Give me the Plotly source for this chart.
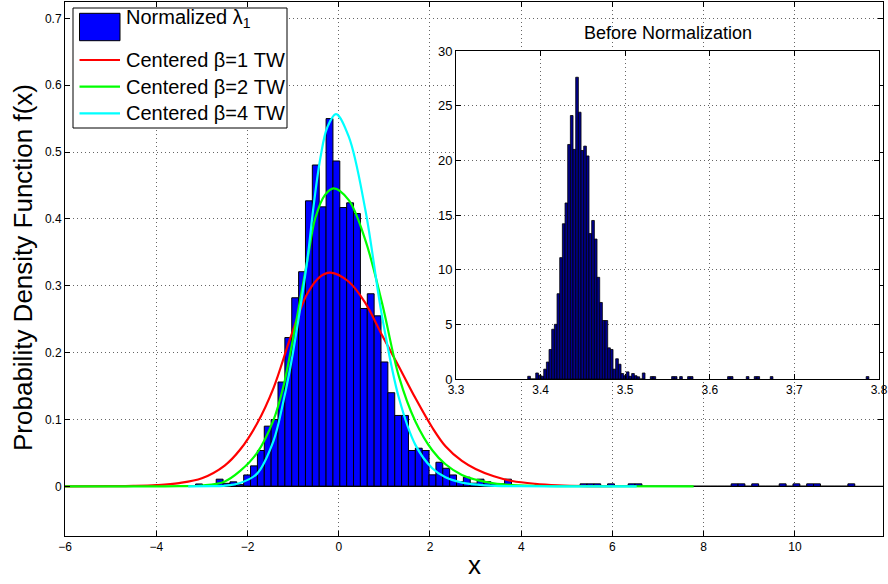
import plotly.graph_objects as go

# ---------------- data ----------------
# main histogram (normalized lambda_1), uniform bins
main_bin_start = -3.137
main_bin_width = 0.1505
main_density = [
    0.0035, 0.0, 0.0, 0.0107, 0.0045, 0.0067, 0.0025, 0.017, 0.0306, 0.0536,
    0.090, 0.0999, 0.156, 0.2225, 0.282, 0.321, 0.427, 0.4806, 0.418, 0.550,
    0.4866, 0.417, 0.424, 0.408, 0.266, 0.288, 0.255, 0.186, 0.140, 0.106,
    0.106, 0.0536, 0.057, 0.0536, 0.0172, 0.036, 0.027, 0.017, 0.007, 0.0137,
    0.0047, 0.0107, 0.007, 0.0037, 0.0037, 0.0107, 0.0, 0.0, 0.0, 0.0,
    0.0, 0.0, 0.0, 0.0, 0.0, 0.0, 0.0037, 0.0037, 0.0037, 0.0,
    0.0037, 0.0, 0.0, 0.0037, 0.0037, 0.0, 0.0, 0.0, 0.0, 0.0,
    0.0, 0.0, 0.0, 0.0, 0.0, 0.0, 0.0, 0.0, 0.0037, 0.0037,
    0.0, 0.0037, 0.0, 0.0, 0.0, 0.0037, 0.0, 0.0037, 0.0, 0.0037,
    0.0037, 0.0, 0.0, 0.0, 0.0, 0.0037,
]

# inset histogram (before normalization)
inset_bin_start = 3.3848
inset_bin_width = 0.00315
inset_bin_index = list(range(0, 44)) + [46, 47, 54, 55, 57, 60, 61, 75, 76, 82, 85, 86, 91, 127]
inset_density = [
    0.25, 0.0, 0.0, 0.55, 0.35, 0.25, 0.9, 1.55, 2.7, 4.55,
    5.0, 7.8, 11.1, 14.2, 16.1, 21.45, 24.1, 21.0, 27.6, 24.4,
    20.9, 21.3, 20.4, 13.3, 14.5, 12.8, 9.3, 7.0, 5.35, 5.35,
    2.85, 2.7, 0.9, 1.85, 1.35, 0.5, 0.3, 0.65, 0.25, 0.5,
    0.3, 0.2, 0.0, 0.55,
    0.22, 0.22, 0.22, 0.22, 0.22, 0.22, 0.22, 0.22, 0.22, 0.22, 0.22, 0.22, 0.22, 0.22,
]

# Tracy-Widom curves
red_x = [-6.0, -5.0, -4.5, -4.0, -3.5, -3.0, -2.5, -2.16, -1.79, -1.43, -1.06, -0.69, -0.40, -0.18,
         0.22, 0.585, 0.95, 1.32, 1.68, 2.05, 2.34, 2.7, 3.0, 3.4, 3.8, 4.3, 4.8, 5.5, 6.0]
red_y = [0.0, 0.0002, 0.0006, 0.0018, 0.0048, 0.012, 0.031, 0.055, 0.094, 0.147, 0.222, 0.288, 0.314, 0.3196,
         0.306, 0.274, 0.226, 0.179, 0.132, 0.088, 0.060, 0.038, 0.026, 0.015, 0.008, 0.0038, 0.0016, 0.0004, 0.0001]

green_x = [-6.0, -3.5, -3.0, -2.52, -2.16, -1.79, -1.43, -1.21, -1.06, -0.91, -0.69, -0.51, -0.30, -0.11,
           0.22, 0.585, 0.95, 1.32, 1.68, 2.05, 2.34, 2.7, 3.0, 3.4, 3.8, 4.5, 5.5, 7.78]
green_y = [0.0, 0.0002, 0.0012, 0.0065, 0.023, 0.050, 0.099, 0.150, 0.200, 0.255, 0.337, 0.402, 0.436, 0.4457,
           0.428, 0.368, 0.274, 0.164, 0.097, 0.054, 0.033, 0.017, 0.010, 0.0045, 0.002, 0.0005, 0.0001, 0.0]

cyan_x = [-3.3, -2.8, -2.52, -2.16, -1.79, -1.43, -1.21, -1.06, -0.91, -0.69, -0.55, -0.40, -0.25, -0.06,
          0.22, 0.585, 0.95, 1.32, 1.68, 2.05, 2.34, 2.7, 3.2, 4.0, 5.0, 6.53]
cyan_y = [0.0, 0.0002, 0.0008, 0.005, 0.019, 0.068, 0.128, 0.178, 0.238, 0.338, 0.420, 0.492, 0.537, 0.5568,
          0.523, 0.413, 0.254, 0.132, 0.062, 0.027, 0.0135, 0.0055, 0.0015, 0.0002, 0.0, 0.0]

x_range = [-6, 11.93]
y_range = [-0.0743, 0.7244]
x_ticks = [-6, -4, -2, 0, 2, 4, 6, 8, 10]
y_ticks = [0, 0.1, 0.2, 0.3, 0.4, 0.5, 0.6, 0.7]
y_ticklabels = ["0", "0.1", "0.2", "0.3", "0.4", "0.5", "0.6", "0.7"]
inset_x_range = [3.3, 3.8]
inset_y_range = [0, 30]
inset_x_ticks = [3.3, 3.4, 3.5, 3.6, 3.7, 3.8]
inset_x_ticklabels = ["3.3", "3.4", "3.5", "3.6", "3.7", "3.8"]
inset_y_ticks = [0, 5, 10, 15, 20, 25, 30]

legend_labels = ["Normalized λ<sub>1</sub>", "Centered β=1 TW", "Centered β=2 TW", "Centered β=4 TW"]
curve_colors = ["#ff0000", "#00ff00", "#00ffff"]

# ---------------- figure ----------------
FONT = "Liberation Sans, Arial, Helvetica, sans-serif"
W, H = 888, 584
ML, MR, MT, MB = 65, 5, 2, 48
PW, PH = W - ML - MR, H - MT - MB


def px_x(p):
    return (p - ML) / PW


def px_y(p):
    return (H - MB - p) / PH


main_centers = [main_bin_start + (i + 0.5) * main_bin_width for i in range(len(main_density))]
baseline_x = [main_bin_start, x_range[1]]
inset_centers = [inset_bin_start + (i + 0.5) * inset_bin_width for i in inset_bin_index]

fig = go.Figure()

fig.add_trace(go.Bar(
    x=main_centers, y=main_density, width=main_bin_width,
    marker=dict(color="#0000ff", line=dict(color="black", width=1)),
    xaxis="x", yaxis="y", hoverinfo="skip",
))
fig.add_trace(go.Scatter(
    x=baseline_x, y=[0, 0], mode="lines",
    line=dict(color="black", width=1.2), xaxis="x", yaxis="y", hoverinfo="skip",
))
for xs, ys, col in [(red_x, red_y, curve_colors[0]), (green_x, green_y, curve_colors[1]),
                    (cyan_x, cyan_y, curve_colors[2])]:
    fig.add_trace(go.Scatter(
        x=xs, y=ys, mode="lines",
        line=dict(color=col, width=2.2, shape="spline", smoothing=1.0),
        xaxis="x", yaxis="y", hoverinfo="skip",
    ))

fig.add_trace(go.Bar(
    x=inset_centers, y=inset_density, width=inset_bin_width,
    marker=dict(color="rgb(0,0,143)", line=dict(color="black", width=0.8)),
    xaxis="x2", yaxis="y2", hoverinfo="skip",
))

axis_common = dict(
    showline=True, linecolor="black", linewidth=1, mirror="ticks",
    ticks="inside", ticklen=5, tickcolor="black", tickwidth=1,
    showgrid=True, gridcolor="#666666", griddash="1px,3px", gridwidth=1,
    zeroline=False, automargin=False, tickfont=dict(family=FONT, size=12, color="black"),
)

fig.update_layout(
    width=W, height=H,
    margin=dict(l=ML, r=MR, t=MT, b=MB, autoexpand=False),
    paper_bgcolor="white", plot_bgcolor="white",
    showlegend=False, bargap=0, barmode="overlay",
    font=dict(family=FONT, color="black"),
    xaxis=dict(domain=[0, 1], range=x_range, tickvals=x_ticks, anchor="y", **axis_common),
    yaxis=dict(domain=[0, 1], range=y_range, tickvals=y_ticks, ticktext=y_ticklabels,
               anchor="x", **axis_common),
    xaxis2=dict(domain=[px_x(456), px_x(879)], range=inset_x_range, tickvals=inset_x_ticks,
                ticktext=inset_x_ticklabels, anchor="y2", **axis_common),
    yaxis2=dict(domain=[px_y(379), px_y(51)], range=inset_y_range, tickvals=inset_y_ticks,
                anchor="x2", **axis_common),
)
fig.update_yaxes(tickfont=dict(family=FONT, size=13, color="black"), selector=dict(anchor="x2"))

# manual legend
shapes = [
    dict(type="rect", xref="paper", yref="paper", x0=px_x(73), x1=px_x(287), y0=px_y(128), y1=px_y(8),
         fillcolor="white", line=dict(color="black", width=1), layer="above"),
    dict(type="rect", xref="paper", yref="paper", x0=px_x(79.5), x1=px_x(120), y0=px_y(40.7), y1=px_y(13.3),
         fillcolor="#0000ff", line=dict(color="black", width=1), layer="above"),
]
line_rows = [60, 86.7, 113.3]
for row, col in zip(line_rows, curve_colors):
    shapes.append(dict(type="line", xref="paper", yref="paper", x0=px_x(79.5), x1=px_x(120),
                       y0=px_y(row), y1=px_y(row), line=dict(color=col, width=2.2), layer="above"))

annotations = [
    dict(text=legend_labels[0], xref="paper", yref="paper", x=px_x(124), y=px_y(19),
         xanchor="left", yanchor="middle", showarrow=False, font=dict(family=FONT, size=20)),
]
for row, lab in zip(line_rows, legend_labels[1:]):
    annotations.append(dict(text=lab, xref="paper", yref="paper", x=px_x(124), y=px_y(row),
                            xanchor="left", yanchor="middle", showarrow=False,
                            font=dict(family=FONT, size=20)))

annotations += [
    dict(text="Before Normalization", xref="paper", yref="paper", x=px_x(667.5), y=px_y(33),
         xanchor="center", yanchor="middle", showarrow=False, font=dict(family=FONT, size=18)),
    dict(text="Probability Density Function f(x)", xref="paper", yref="paper", x=px_x(23), y=px_y(268),
         xanchor="center", yanchor="middle", textangle=-90, showarrow=False,
         font=dict(family=FONT, size=26)),
    dict(text="x", xref="paper", yref="paper", x=px_x(474), y=px_y(565),
         xanchor="center", yanchor="middle", showarrow=False, font=dict(family=FONT, size=26)),
]

fig.update_layout(shapes=shapes, annotations=annotations)

fig.write_html(
    "out.html",
    config={"displayModeBar": False, "staticPlot": True},
    post_script="document.body.style.margin='0';document.body.style.overflow='hidden';",
)
